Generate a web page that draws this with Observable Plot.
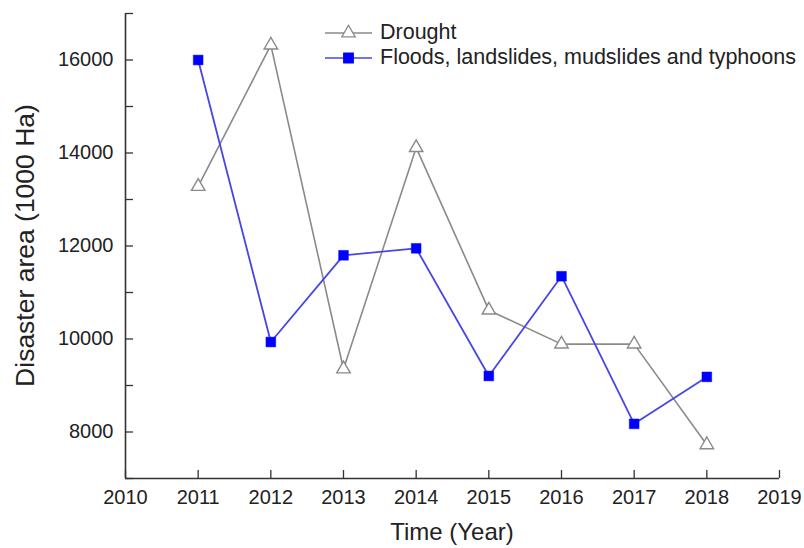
<!DOCTYPE html>
<html>
<head>
<meta charset="utf-8">
<script src="https://cdn.jsdelivr.net/npm/d3@7"></script>
<script src="https://cdn.jsdelivr.net/npm/@observablehq/plot@0.6"></script>
<style>
  html, body { margin: 0; padding: 0; background: #fff; }
  svg { font-family: "Liberation Sans", Arial, sans-serif; }
  .ticklab, .ticklab text { font-size: 20px !important; }
</style>
</head>
<body>
<div id="chart"></div>
<script>
const years = [2011, 2012, 2013, 2014, 2015, 2016, 2017, 2018];
const drought = [13280, 16320, 9355, 14115, 10620, 9890, 9890, 7725];
const floods = [16000, 9935, 11800, 11950, 9205, 11350, 8175, 9185];
const seriesNames = ["Drought", "Floods, landslides, mudslides and typhoons"];
const xTicks = [2010, 2011, 2012, 2013, 2014, 2015, 2016, 2017, 2018, 2019];
const yTicks = [8000, 10000, 12000, 14000, 16000];
const yMinorTicks = [7000, 8000, 9000, 10000, 11000, 12000, 13000, 14000, 15000, 16000, 17000];
const xTitle = "Time (Year)";
const yTitle = "Disaster area (1000 Ha)";

const droughtData = years.map((y, i) => ({year: y, value: drought[i]}));
const floodsData = years.map((y, i) => ({year: y, value: floods[i]}));

const W = 804, H = 548;
const mL = 125, mR = 25, mT = 13, mB = 70;
const gray = "#8a8a8a", blue = "#4646e6", blueFill = "#0000ff";

const chart = Plot.plot({
  width: W, height: H,
  marginLeft: mL, marginRight: mR, marginTop: mT, marginBottom: mB,
  style: {fontFamily: "Liberation Sans, Arial, sans-serif", fontSize: "20px", color: "#222", background: "#fff", overflow: "visible"},
  x: {domain: [2010, 2019], label: null},
  y: {domain: [7000, 17000], label: null},
  marks: [
    Plot.axisX({ticks: xTicks, tickSize: -8, tickFormat: () => "", stroke: "#333", strokeWidth: 1.3, label: null}),
    Plot.axisY({ticks: yMinorTicks, tickSize: -8, tickFormat: () => "", stroke: "#333", strokeWidth: 1.3, label: null}),
    Plot.text(xTicks, {x: d => d, text: d => String(d), frameAnchor: "bottom", dy: 19, fontSize: 20, fill: "#222", lineAnchor: "middle", className: "ticklab"}),
    Plot.text(yTicks, {y: d => d, text: d => String(d), frameAnchor: "left", dx: -12, textAnchor: "end", fontSize: 20, fill: "#222", className: "ticklab"}),
    Plot.ruleX([2010], {stroke: "#333", strokeWidth: 1.6}),
    Plot.ruleY([7000], {stroke: "#333", strokeWidth: 1.6}),
    Plot.line(droughtData, {x: "year", y: "value", stroke: gray, strokeWidth: 1.6}),
    Plot.line(floodsData, {x: "year", y: "value", stroke: blue, strokeWidth: 1.8}),
    Plot.dot(droughtData, {x: "year", y: "value", symbol: "triangle", r: 5, fill: "white", stroke: gray, strokeWidth: 1.4}),
    Plot.dot(floodsData, {x: "year", y: "value", symbol: "square", r: 5.5, fill: blueFill, stroke: blueFill, strokeWidth: 0.5})
  ]
});

const svg = d3.select(chart);
svg.selectAll(".ticklab").style("font-size", "20px");
svg.selectAll(".ticklab text").style("font-size", "20px");
// Axis titles
svg.append("text")
  .attr("x", mL + (W - mL - mR) / 2).attr("y", 534)
  .attr("text-anchor", "middle").attr("dominant-baseline", "middle")
  .style("font-size", "24px").attr("fill", "#222").text(xTitle);
svg.append("text")
  .attr("transform", `translate(27, ${mT + (H - mT - mB) / 2}) rotate(-90)`)
  .attr("text-anchor", "middle").attr("dominant-baseline", "middle")
  .style("font-size", "26.5px").attr("fill", "#222").text(yTitle);

// Legend
const leg = svg.append("g");
const legItems = [
  {name: seriesNames[0], y: 33, stroke: gray, symbol: d3.symbolTriangle, fill: "white", sstroke: gray, size: 78},
  {name: seriesNames[1], y: 58, stroke: blue, symbol: d3.symbolSquare, fill: blueFill, sstroke: blueFill, size: 90}
];
legItems.forEach(it => {
  leg.append("line").attr("x1", 325).attr("x2", 372).attr("y1", it.y).attr("y2", it.y)
    .attr("stroke", it.stroke).attr("stroke-width", 1.5);
  leg.append("path").attr("d", d3.symbol(it.symbol, it.size)())
    .attr("transform", `translate(348.5, ${it.y})`)
    .attr("fill", it.fill).attr("stroke", it.sstroke).attr("stroke-width", 1.3);
  leg.append("text").attr("x", 380).attr("y", it.y).attr("dominant-baseline", "middle")
    .attr("text-anchor", "start")
    .style("font-size", "21.5px").attr("fill", "#222").text(it.name);
});

document.getElementById("chart").appendChild(chart);
</script>
</body>
</html>
